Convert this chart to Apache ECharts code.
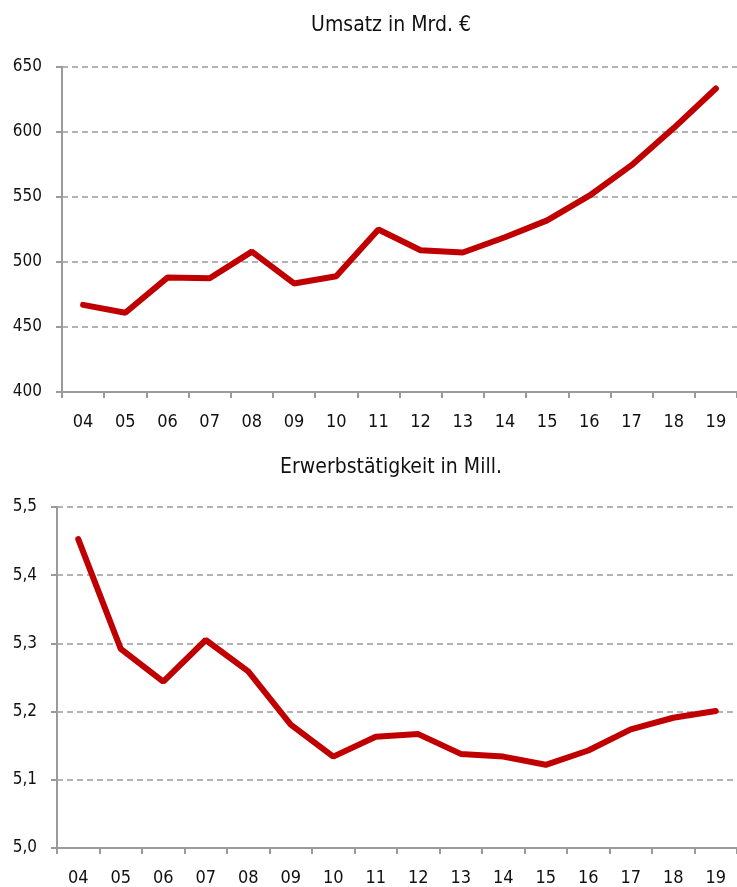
<!DOCTYPE html>
<html>
<head>
<meta charset="utf-8">
<script src="https://cdn.jsdelivr.net/npm/echarts@6/dist/echarts.min.js"></script>
<style>
html,body{margin:0;padding:0;background:#fff;}
#main{width:737px;height:887px;}
</style>
</head>
<body>
<div id="main"></div>
<script>
// Jahre (Kategorien)
var jahre = ['04','05','06','07','08','09','10','11','12','13','14','15','16','17','18','19'];

// Umsatz in Mrd. €
var umsatz = [467, 461, 488, 487.5, 508, 483.5, 489, 525, 509, 507.3, 519, 532, 551, 574.5, 603, 633.5];

// Erwerbstätigkeit in Mill.
var erwerb = [5.453, 5.292, 5.244, 5.305, 5.259, 5.181, 5.134, 5.163, 5.167, 5.138, 5.134, 5.122, 5.143, 5.174, 5.191, 5.201];

var titel1 = 'Umsatz in Mrd. €';
var titel2 = 'Erwerbstätigkeit in Mill.';

var FONT = "'DejaVu Sans Condensed',sans-serif";
var GRAU = '#9a9a9a';
var ROT = '#c00000';

function xAchse(idx){
  return {
    type: 'category',
    gridIndex: idx,
    data: jahre,
    boundaryGap: true,
    axisLine: {lineStyle: {color: GRAU, width: 2}},
    axisTick: {show: true, length: 6, lineStyle: {color: GRAU, width: 2}},
    axisLabel: {color: '#111', fontFamily: FONT, fontSize: 18, margin: 21},
    splitLine: {show: false}
  };
}

function yAchse(idx, min, max, step, fmt){
  return {
    type: 'value',
    gridIndex: idx,
    min: min, max: max, interval: step,
    axisLine: {show: true, lineStyle: {color: GRAU, width: 2}},
    axisTick: {show: true, length: 6, lineStyle: {color: GRAU, width: 2}},
    axisLabel: {color: '#111', fontFamily: FONT, fontSize: 17, margin: 20, formatter: fmt},
    splitLine: {show: true, lineStyle: {color: GRAU, width: 1.5, type: [6, 4]}}
  };
}

var chart = echarts.init(document.getElementById('main'));
chart.setOption({
  animation: false,
  backgroundColor: '#fff',
  title: [
    {text: titel1, left: 386, textAlign: 'center', top: 10, textStyle: {fontFamily: FONT, fontSize: 21, fontWeight: 'normal', color: '#111'}},
    {text: titel2, left: 386, textAlign: 'center', top: 452, textStyle: {fontFamily: FONT, fontSize: 21, fontWeight: 'normal', color: '#111'}}
  ],
  grid: [
    {left: 62, top: 67, width: 678, height: 325},
    {left: 57, top: 507, width: 680, height: 341}
  ],
  xAxis: [xAchse(0), xAchse(1)],
  yAxis: [
    yAchse(0, 400, 650, 50, function(v){ return v; }),
    yAchse(1, 5.0, 5.5, 0.1, function(v){ return v.toFixed(1).replace('.', ','); })
  ],
  series: [
    {type: 'line', xAxisIndex: 0, yAxisIndex: 0, data: umsatz, symbol: 'none',
      lineStyle: {color: ROT, width: 6, cap: 'round'}},
    {type: 'line', xAxisIndex: 1, yAxisIndex: 1, data: erwerb, symbol: 'none',
      lineStyle: {color: ROT, width: 6, cap: 'round'}}
  ]
});
</script>
</body>
</html>
